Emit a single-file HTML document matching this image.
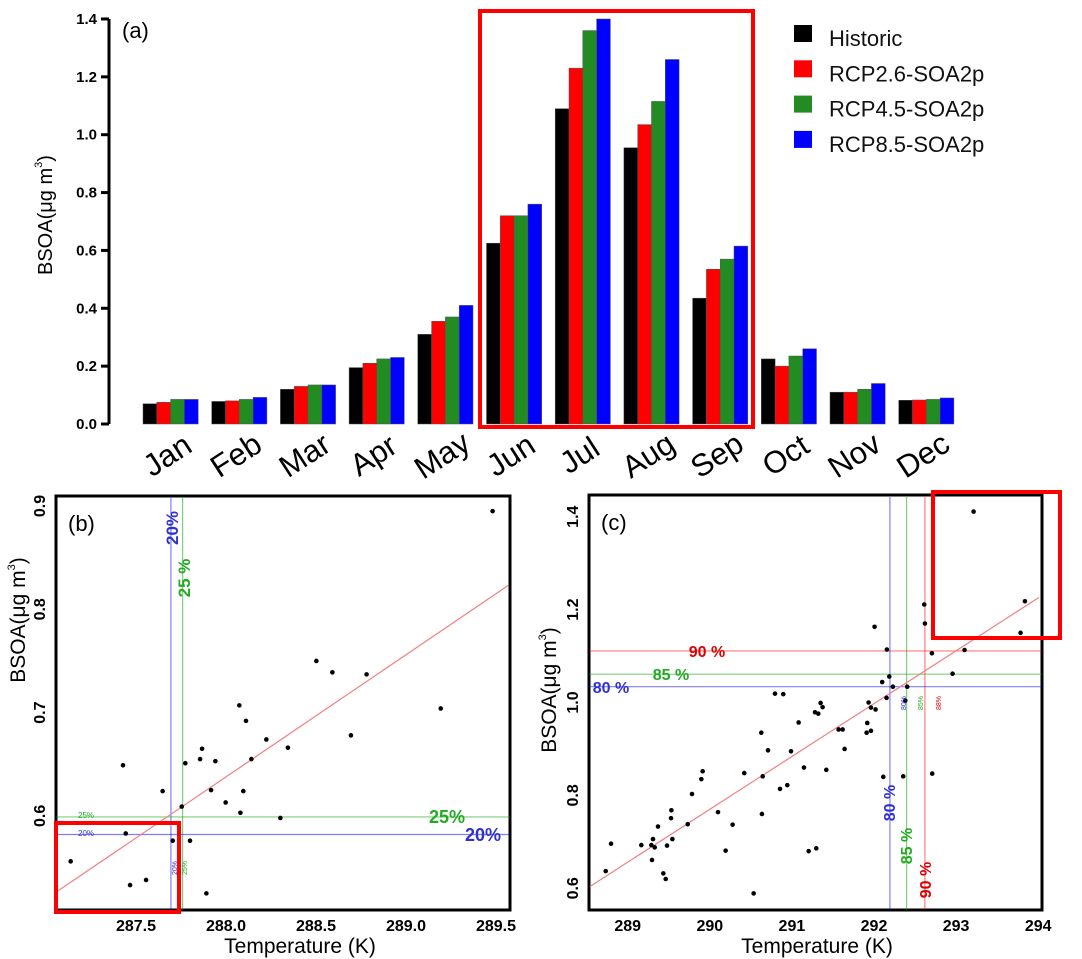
<!DOCTYPE html>
<html><head><meta charset="utf-8"><style>
body{margin:0;background:#fff;}
svg{display:block;font-family:"Liberation Sans",sans-serif;}
</style></head><body>
<svg id="fig" width="1082" height="959" viewBox="0 0 1082 959">
<g id="pa"></g>
<g id="pb"></g>
<g id="pc"></g>
</svg>
<script>
const months=["Jan","Feb","Mar","Apr","May","Jun","Jul","Aug","Sep","Oct","Nov","Dec"];
const seriesNames=["Historic","RCP2.6-SOA2p","RCP4.5-SOA2p","RCP8.5-SOA2p"];
const historic=[0.07,0.078,0.12,0.195,0.31,0.625,1.09,0.955,0.435,0.225,0.11,0.082];
const rcp26=[0.075,0.08,0.13,0.21,0.355,0.72,1.23,1.035,0.535,0.2,0.11,0.083];
const rcp45=[0.085,0.085,0.135,0.225,0.37,0.72,1.36,1.115,0.57,0.235,0.12,0.085];
const rcp85=[0.085,0.092,0.135,0.23,0.41,0.76,1.40,1.26,0.615,0.26,0.14,0.09];
const yTicksA=[0,0.2,0.4,0.6,0.8,1.0,1.2,1.4];
const bT=[287.137,287.428,287.443,287.467,287.556,287.648,287.704,287.754,287.774,287.8,287.856,287.867,287.891,287.917,287.941,287.998,288.074,288.08,288.096,288.111,288.141,288.224,288.302,288.344,288.502,288.591,288.694,288.781,289.193,289.481];
const bV=[0.556,0.649,0.583,0.533,0.538,0.624,0.576,0.609,0.651,0.576,0.655,0.665,0.525,0.625,0.653,0.613,0.707,0.603,0.624,0.692,0.655,0.674,0.598,0.666,0.750,0.739,0.678,0.737,0.704,0.895];
const bXTicks=[287.5,288.0,288.5,289.0,289.5];
const bYTicks=[0.6,0.7,0.8,0.9];
const cT=[288.732,288.797,289.166,289.288,289.308,289.296,289.329,289.369,289.434,289.463,289.479,289.528,289.532,289.544,289.731,289.783,289.897,289.913,290.1,290.193,290.278,290.42,290.534,290.627,290.635,290.644,290.709,290.794,290.855,290.895,290.944,290.989,291.082,291.147,291.204,291.281,291.297,291.321,291.35,291.374,291.419,291.569,291.618,291.642,291.91,291.918,291.934,291.963,291.963,292.007,292.019,292.1,292.113,292.153,292.157,292.186,292.23,292.356,292.381,292.405,292.612,292.62,292.705,292.709,292.957,293.103,293.213,293.785,293.838];
const cV=[0.637,0.696,0.693,0.693,0.706,0.661,0.688,0.733,0.632,0.620,0.692,0.751,0.768,0.706,0.738,0.803,0.835,0.852,0.764,0.681,0.737,0.848,0.589,0.935,0.760,0.841,0.897,1.019,0.814,1.018,0.822,0.895,0.957,0.860,0.680,0.979,0.686,0.976,0.999,0.990,0.855,0.942,0.942,0.900,0.935,0.956,1.000,0.939,0.989,1.163,0.985,1.044,0.840,1.010,1.114,1.056,1.034,0.841,1.004,1.034,1.211,1.170,1.106,0.847,1.062,1.113,1.411,1.150,1.218];
const cXTicks=[289,290,291,292,293,294];
const cYTicks=[0.6,0.8,1.0,1.2,1.4];

const NS="http://www.w3.org/2000/svg";
function mk(parent,tag,attrs,text){const e=document.createElementNS(NS,tag);for(const k in attrs)e.setAttribute(k,attrs[k]);if(text!==undefined)e.textContent=text;parent.appendChild(e);return e;}

// ---- Panel A
const pa=document.getElementById('pa');
const yA=v=>424-v*289.3;
const gx=i=>143+i*68.7;
const bw=13.8;
const colors=["#000000","#ff0000","#228b22","#0000ff"];
const all=[historic,rcp26,rcp45,rcp85];
let e=mk(pa,'line',{x1:109,y1:yA(0),x2:109,y2:yA(1.4),stroke:'#000','stroke-width':3});


yTicksA.forEach(t=>{
  let l=mk(pa,'line',{x1:101,y1:yA(t),x2:109,y2:yA(t),stroke:'#000','stroke-width':3});
  
  
  let tx=mk(pa,'text',{x:97,y:yA(t)+5,'text-anchor':'end','font-size':15,'font-weight':'bold'},t.toFixed(1));
  
  
});
months.forEach((m,i)=>{
  all.forEach((s,k)=>{
    let r=mk(pa,'rect',{x:gx(i)+k*bw,y:yA(s[i]),width:bw,height:yA(0)-yA(s[i]),fill:colors[k],stroke:'#555','stroke-width':0.5});
    
    
  });
  let t=mk(pa,'text',{x:0,y:0,'font-size':31,'text-anchor':'middle',transform:`translate(${gx(i)+30},${464}) rotate(-33)`},m);
  
  
});
e=mk(pa,'text',{x:0,y:0,'font-size':20,transform:'translate(52,275) rotate(-90)'});


e.innerHTML='BSOA(μg m<tspan dy="-10" font-size="11">3</tspan><tspan dy="10">)</tspan>';
e=mk(pa,'text',{x:122,y:38,'font-size':22},'(a)');


e=mk(pa,'rect',{x:480,y:11,width:273,height:416,fill:'none',stroke:'#ff0000','stroke-width':4});


seriesNames.forEach((n,k)=>{
  let yy=25+k*35.3;
  let r=mk(pa,'rect',{x:794,y:yy,width:18,height:17,fill:colors[k]});
  
  
  let t=mk(pa,'text',{x:829,y:yy+21,'font-size':22,fill:'#111'},n);
  
  
});

// ---- scatter panel helper
function scatter(g,opt){
  const X=opt.x, Y=opt.y, f=opt.frame;
  let r=mk(g,'rect',{x:f[0],y:f[1],width:f[2]-f[0],height:f[3]-f[1],fill:'none',stroke:'#000','stroke-width':3});
  
  
  opt.xt.forEach(t=>{
    let l=mk(g,'text',{x:X(t),y:f[3]+21,'text-anchor':'middle','font-size':16,'font-weight':'bold'},opt.xfmt(t));
    
    
  });
  opt.yt.forEach(t=>{
    let l=mk(g,'text',{x:0,y:0,'text-anchor':'middle','font-size':16,'font-weight':'bold',transform:`translate(${f[0]-11},${Y(t)}) rotate(-90)`},t.toFixed(1));
    
    
  });
  opt.vl.forEach(v=>{
    let l=mk(g,'line',{x1:X(v[0]),y1:f[1]+2,x2:X(v[0]),y2:f[3],stroke:v[1],'stroke-width':1.2,opacity:0.5});
    
    
  });
  opt.hl.forEach(v=>{
    let l=mk(g,'line',{x1:f[0],y1:Y(v[0]),x2:f[2],y2:Y(v[0]),stroke:v[1],'stroke-width':1.2,opacity:0.5});
    
    
  });
  const rg=opt.reg;
  let l=mk(g,'line',{x1:X(rg[0]),y1:Y(rg[1]),x2:X(rg[2]),y2:Y(rg[3]),stroke:'#f08080','stroke-width':1.2});
  
  
  opt.T.forEach((t,i)=>{
    let c=mk(g,'circle',{cx:X(t),cy:Y(opt.V[i]),r:2.3,fill:'#000'});
    
    
  });
  let t=mk(g,'text',{x:opt.xtitle,y:f[3]+43,'text-anchor':'middle','font-size':21},'Temperature (K)');
  
  
  t=mk(g,'text',{x:0,y:0,'font-size':21,'text-anchor':'middle',transform:`translate(${opt.ytx},${opt.yty}) rotate(-90)`});
  
  
  t.innerHTML='BSOA(μg m<tspan dy="-10" font-size="11">3</tspan><tspan dy="10">)</tspan>';
  t=mk(g,'text',{x:f[0]+12,y:f[1]+35,'font-size':22},opt.label);
  
  
  let b=opt.box;
  r=mk(g,'rect',{x:b[0],y:b[1],width:b[2]-b[0],height:b[3]-b[1],fill:'none',stroke:'#ff0000','stroke-width':4});
  
  
  opt.labels.forEach(L=>{
    let a={x:0,y:0,'font-size':L[3],fill:L[4],'font-weight':L[5]?'bold':'normal','text-anchor':'middle',transform:`translate(${L[1]},${L[2]})`+(L[6]?' rotate(-90)':'')};
    let tt=mk(g,'text',a,L[0]);
    
    
  });
}
const pb=document.getElementById('pb');
const xB=t=>136+(t-287.5)*180, yB=v=>506+(0.9-v)/0.1*103.3;
scatter(pb,{x:xB,y:yB,frame:[56,496,510,910],xt:bXTicks,yt:bYTicks,xfmt:t=>t.toFixed(1),
  vl:[[287.694,'#0000ff'],[287.759,'#00a000']],hl:[[0.599,'#00a000'],[0.582,'#0000ff']],
  reg:[287.063,0.527,289.567,0.823],T:bT,V:bV,xtitle:300,ytx:25,yty:620,label:'(b)',
  box:[56,823,179,912],
  labels:[['20%',178,528,17,'#3030d0',1,1],['25 %',190,578,17,'#22aa22',1,1],
    ['25%',447,823,18,'#22aa22',1,0],['20%',483,841,18,'#3030d0',1,0],
    ['25%',86,818,8,'#22aa22',0,0],['20%',86,836,8,'#3030d0',0,0],
    ['20%',177,868,7,'#3030d0',0,1],['25%',187,868,7,'#22aa22',0,1]]});
const pc=document.getElementById('pc');
const xC=t=>627.7+(t-289)*82.1, yC=v=>516.7+(1.4-v)/0.2*92.9;
scatter(pc,{x:xC,y:yC,frame:[589,495,1042,910],xt:cXTicks,yt:cYTicks,xfmt:t=>String(t),
  vl:[[292.194,'#0000ff'],[292.397,'#00a000'],[292.62,'#ff0000']],hl:[[1.111,'#ff0000'],[1.061,'#00a000'],[1.034,'#0000ff']],
  reg:[288.541,0.604,294.008,1.226],T:cT,V:cV,xtitle:817,ytx:556,yty:690,label:'(c)',
  box:[933,492,1060,638],
  labels:[['90 %',707,657,16,'#e00000',1,0],['85 %',671,680,16,'#22aa22',1,0],['80 %',611,693,16,'#3030d0',1,0],
    ['80 %',895,803,16,'#3030d0',1,1],['85 %',912,846,16,'#22aa22',1,1],['90 %',931,880,16,'#e00000',1,1],
    ['80%',906,703,7,'#3030d0',0,1],['85%',923,703,7,'#22aa22',0,1],['88%',941,703,7,'#e00000',0,1]]});
</script>
</body></html>
